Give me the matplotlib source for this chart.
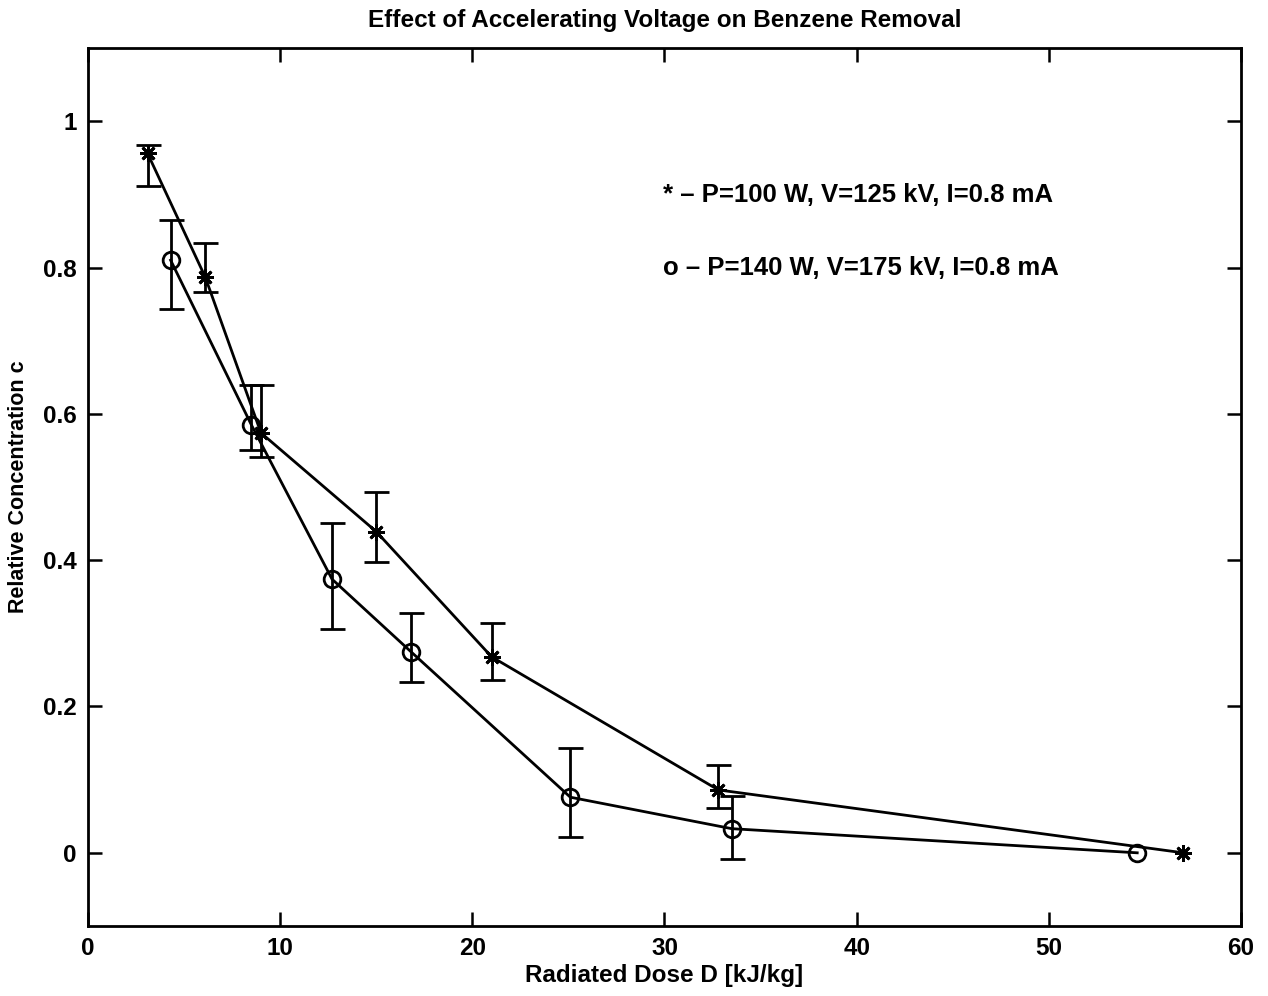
import numpy as np
import matplotlib
matplotlib.use("Agg")
import matplotlib.pyplot as plt

plt.rcParams['font.family'] = ['Liberation Sans', 'DejaVu Sans']
plt.rcParams['font.weight'] = 'bold'

# series 1: * - P=100 W, V=125 kV
dose_star = [3.1, 6.1, 9.0, 15.0, 21.0, 32.8, 57.0]
conc_star = [0.956, 0.787, 0.574, 0.439, 0.268, 0.086, 0.0]
star_hi = [0.967, 0.833, 0.639, 0.493, 0.314, 0.120, np.nan]
star_lo = [0.911, 0.766, 0.541, 0.398, 0.236, 0.061, np.nan]

# series 2: o - P=140 W, V=175 kV
dose_circ = [4.3, 8.5, 12.7, 16.8, 25.1, 33.5, 54.6]
conc_circ = [0.810, 0.585, 0.374, 0.275, 0.076, 0.033, 0.0]
circ_hi = [0.865, 0.639, 0.451, 0.328, 0.143, 0.077, np.nan]
circ_lo = [0.743, 0.551, 0.306, 0.234, 0.022, -0.008, np.nan]

fig = plt.figure(figsize=(12.68, 9.96), dpi=100)
ax = fig.add_axes([0.0694, 0.0703, 0.9093, 0.8815])

def draw(x, y, hi, lo, marker, ms):
    x = np.array(x); y = np.array(y)
    hi = np.array(hi); lo = np.array(lo)
    ax.plot(x, y, color='black', lw=2, marker=marker, ms=ms,
            mfc='none', mec='black', mew=2)
    ok = ~np.isnan(hi)
    ax.errorbar(x[ok], y[ok], yerr=[y[ok] - lo[ok], hi[ok] - y[ok]],
                fmt='none', ecolor='black', elinewidth=2, capsize=9,
                capthick=2)

draw(dose_star, conc_star, star_hi, star_lo, (8, 2, 0), 12)
draw(dose_circ, conc_circ, circ_hi, circ_lo, 'o', 12)

ax.set_xlim(0, 60)
ax.set_ylim(-0.1, 1.1)
ax.set_xticks([0, 10, 20, 30, 40, 50, 60])
ax.set_yticks([0, 0.2, 0.4, 0.6, 0.8, 1])
ax.set_yticklabels(['0', '0.2', '0.4', '0.6', '0.8', '1'])
ax.tick_params(direction='in', length=10, width=1.8, top=True, right=True,
               labelsize=17.5, pad=8)
for s in ax.spines.values():
    s.set_linewidth(2)

ax.set_title('Effect of Accelerating Voltage on Benzene Removal',
             fontsize=17.5, fontweight='bold', pad=15)
ax.set_xlabel('Radiated Dose D [kJ/kg]', fontsize=17.5, fontweight='bold', labelpad=3)
ax.set_ylabel('Relative Concentration c', fontsize=15.5, fontweight='bold', labelpad=10)

ax.text(29.9, 0.899, '* \u2013 P=100 W, V=125 kV, I=0.8 mA', fontsize=18.5, va='center')
ax.text(29.9, 0.800, 'o \u2013 P=140 W, V=175 kV, I=0.8 mA', fontsize=18.5, va='center')

fig.savefig('out.png', dpi=100)
